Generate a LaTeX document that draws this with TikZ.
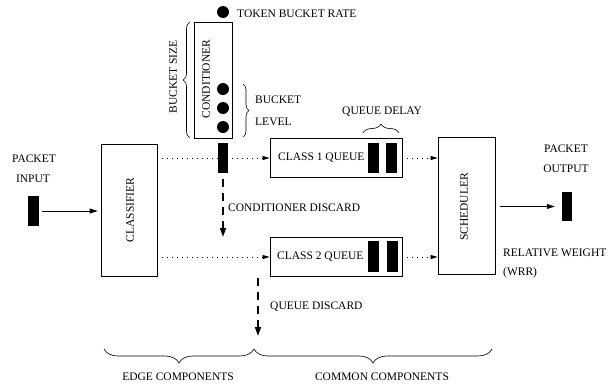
\documentclass[tikz,border=0pt]{standalone}
\usepackage{fontspec}
\setmainfont{Liberation Serif}
\usetikzlibrary{arrows.meta,decorations.pathreplacing}

\begin{document}
\begin{tikzpicture}[x=1pt,y=-1pt,
  every node/.style={font=\fontsize{11.5}{13}\selectfont, inner sep=0pt},
  box/.style={draw, line width=0.8pt, minimum width=#1},
  blackbar/.style={fill=black, draw=none},
  ball/.style={circle, fill=black, minimum size=12pt},
  label/.style={anchor=west},
  flow/.style={-{Triangle[length=8pt,width=5pt]}, line width=0.9pt},
  dotflow/.style={line width=0.7pt, dash pattern=on 0.8pt off 4.2pt,
                  -{Triangle[length=7pt,width=4pt]}},
  discard/.style={line width=1.8pt, dash pattern=on 8pt off 6pt,
                  -{Triangle[length=9pt,width=6pt]}},
  curly/.style={decorate, line width=0.6pt,
                decoration={brace, amplitude=#1}},
]
\useasboundingbox (0,0) rectangle (616,386);

% conditioner with its token bucket
\node[ball] (rate) at (223,12) {};
\node[label] (ratetxt) at (237,14) {TOKEN BUCKET RATE};
\node[box=38pt, minimum height=116pt] (cond) at (213,80) {};
\node[rotate=90] (condtxt) at (206,79) {CONDITIONER};
\node[ball] (tok1) at (223,89) {};
\node[ball] (tok2) at (223,108) {};
\node[ball] (tok3) at (223,127) {};
\draw[curly=7pt] (190,138) -- (190,22);
\node[rotate=90] (sizetxt) at (173,77) {BUCKET SIZE};
\draw[curly=6pt] (243,84) -- (243,137);
\node[label] (lvl1) at (255,100) {BUCKET};
\node[label] (lvl2) at (255,122) {LEVEL};

% input side
\node (intxt1) at (34,159) {PACKET};
\node (intxt2) at (33,179) {INPUT};
\node[blackbar, minimum width=11pt, minimum height=30pt] (inbar) at (33.5,211) {};
\node[box=56pt, minimum height=132pt] (classifier) at (129,210) {};
\node[rotate=90] (classtxt) at (130,210) {CLASSIFIER};

% queues
\node[box=132pt, minimum height=39pt] (q1) at (336,158) {};
\node[label] (q1txt) at (278,158) {CLASS 1 QUEUE};
\node[blackbar, minimum width=11pt, minimum height=30pt] (q1a) at (373.5,158) {};
\node[blackbar, minimum width=11pt, minimum height=30pt] (q1b) at (391.5,158) {};
\draw[curly=9pt] (363,133) -- (399,133);
\node[label] (delaytxt) at (342,112) {QUEUE DELAY};

\node[box=132pt, minimum height=39pt] (q2) at (336,257) {};
\node[label] (q2txt) at (277,257) {CLASS 2 QUEUE};
\node[blackbar, minimum width=11pt, minimum height=31pt] (q2a) at (373,256.5) {};
\node[blackbar, minimum width=11pt, minimum height=31pt] (q2b) at (392,256.5) {};

% scheduler and output
\node[box=57pt, minimum height=137pt] (sched) at (466.5,205.5) {};
\node[rotate=90] (schedtxt) at (464,207) {SCHEDULER};
\node (outtxt1) at (566,149) {PACKET};
\node (outtxt2) at (566,169) {OUTPUT};
\node[blackbar, minimum width=10pt, minimum height=29pt] (outbar) at (567,206.5) {};
\node[label] (wtxt1) at (503,253) {RELATIVE WEIGHT};
\node[label] (wtxt2) at (503,273) {(WRR)};

% packet flow
\draw[flow, shorten <=3pt, shorten >=3pt] (inbar) -- (inbar -| classifier.west);
\draw[dotflow] (classifier.east |- q1.west) -- (q1.west);
\draw[dotflow] (classifier.east |- q2.west) -- (q2.west);
\draw[dotflow] (q1.east) -- (q1.east -| sched.west);
\draw[dotflow] (q2.east) -- (q2.east -| sched.west);
\draw[flow, shorten <=5pt, shorten >=7pt] (sched.east |- outbar.west) -- (outbar.west);

% conditioner bar sits on the class 1 path
\node[blackbar, minimum width=10pt, minimum height=30pt] (condbar) at (223,158) {};

% discards
\coordinate (conddrop) at (223,237);
\draw[discard, shorten <=6pt] (condbar.south) -- (conddrop);
\node[label] (cdtxt) at (228,208) {CONDITIONER DISCARD};
\coordinate (qdtop) at (258,278);
\coordinate (qddrop) at (258,336);
\draw[discard] (qdtop) -- (qddrop);
\node[label] (qdtxt) at (270,307) {QUEUE DISCARD};

% component groups
\draw[curly=14pt] (254,349) -- (104,349);
\draw[curly=14pt] (492,349) -- (254,349);
\node (edgetxt) at (178,377) {EDGE COMPONENTS};
\node (commontxt) at (382,377) {COMMON COMPONENTS};
\end{tikzpicture}
\end{document}
